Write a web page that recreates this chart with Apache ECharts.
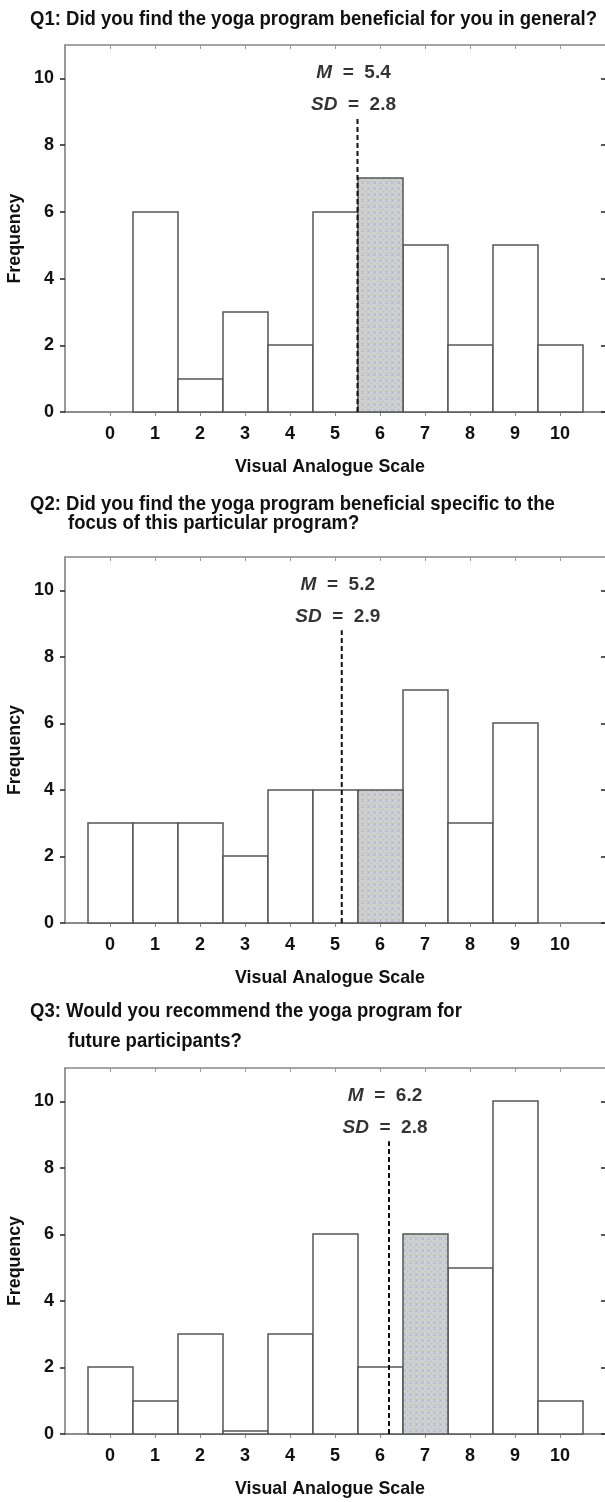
<!DOCTYPE html>
<html>
<head>
<meta charset="utf-8">
<script src="https://cdn.jsdelivr.net/npm/echarts@6/dist/echarts.min.js"></script>
<style>
html,body{margin:0;padding:0;background:#fff;}
#c{width:605px;height:1502px;}
</style>
</head>
<body>
<div id="c"></div>
<script>
// ---- data ----
const categories = [0, 1, 2, 3, 4, 5, 6, 7, 8, 9, 10];
const xTickLabels = ['0', '1', '2', '3', '4', '5', '6', '7', '8', '9', '10'];
const yTickValues = [0, 2, 4, 6, 8, 10];
const yTickLabels = ['0', '2', '4', '6', '8', '10'];
const q1Values = [0, 6, 1, 3, 2, 6, 7, 5, 2, 5, 2];
const q2Values = [3, 3, 3, 2, 4, 4, 4, 7, 3, 6, 0];
const q3Values = [2, 1, 3, 0.1, 3, 6, 2, 6, 5, 10, 1];
const highlightCat = [6, 6, 7];
const meanLineX = [5.5, 5.15, 6.2];
const meanLineTop = [8.8, 8.8, 8.8];
const meanLabels = ['5.4', '5.2', '6.2'];
const sdLabels = ['2.8', '2.9', '2.8'];
const titleLines = [
  ['Q1: Did you find the yoga program beneficial for you in general?'],
  ['Q2: Did you find the yoga program beneficial specific to the', 'focus of this particular program?'],
  ['Q3: Would you recommend the yoga program for', 'future participants?']
];
const xAxisName = 'Visual Analogue Scale';
const yAxisName = 'Frequency';
const allValues = [q1Values, q2Values, q3Values];

// ---- layout ----
const FONT = "'Liberation Sans','Arial',sans-serif";
const gridLeft = 65, gridWidth = 542;
const gridTops = [45, 557, 1068];
const gridHeights = [367, 366, 366];
const titleY = [[19], [504, 523], [1011, 1041]];
const TITLE_SIZE = 21, NAME_SIZE = 19;

// condensing factors (fit reference text widths)
const mc = document.createElement('canvas').getContext('2d');
function fitScale(text, size, target) {
  mc.font = 'bold ' + size + "px 'Liberation Sans', Arial, sans-serif";
  return target / mc.measureText(text).width;
}
const titleScale = fitScale(titleLines[0][0], TITLE_SIZE, 567);
const xNameScale = fitScale(xAxisName, NAME_SIZE, 190);
const yNameScale = fitScale(yAxisName, NAME_SIZE, 90);

// hatch pattern for highlighted bar
const pc = document.createElement('canvas');
pc.width = 6; pc.height = 6;
const pctx = pc.getContext('2d');
pctx.fillStyle = '#d0d0d0'; pctx.fillRect(0, 0, 6, 6);
pctx.strokeStyle = '#a8abd2'; pctx.lineWidth = 0.8;
pctx.beginPath();
pctx.moveTo(1, 1); pctx.lineTo(4, 4); pctx.moveTo(4, 1); pctx.lineTo(1, 4);
pctx.stroke();
pctx.fillStyle = '#b5b5b5'; pctx.fillRect(5, 5, 1, 1);
const hatch = { image: pc, repeat: 'repeat' };

const grids = [], xAxes = [], yAxes = [], series = [], graphics = [];
for (let i = 0; i < 3; i++) {
  grids.push({ left: gridLeft, top: gridTops[i], width: gridWidth, height: gridHeights[i], containLabel: false });
  xAxes.push({
    gridIndex: i, type: 'value', min: -1, max: 11, interval: 1, position: 'bottom',
    axisLine: { show: true, onZero: false, lineStyle: { color: '#666', width: 1.5 } },
    axisTick: { show: true, inside: false, length: 4, customValues: categories, lineStyle: { color: '#888' } },
    axisLabel: { show: true, customValues: categories, formatter: v => xTickLabels[categories.indexOf(v)] || '',
      fontFamily: FONT, fontSize: 18, fontWeight: 'bold', color: '#111', margin: 13 },
    splitLine: { show: false }
  });
  xAxes.push({
    gridIndex: i, type: 'value', min: -1, max: 11, interval: 1, position: 'top',
    axisLine: { show: true, onZero: false, lineStyle: { color: '#888', width: 1.5 } },
    axisTick: { show: true, inside: true, length: 4, customValues: categories, lineStyle: { color: '#999' } },
    axisLabel: { show: false }, splitLine: { show: false }
  });
  yAxes.push({
    gridIndex: i, type: 'value', min: 0, max: 11, interval: 1, position: 'left',
    axisLine: { show: true, onZero: false, lineStyle: { color: '#777', width: 1.5 } },
    axisTick: { show: true, inside: false, length: 5, customValues: yTickValues, lineStyle: { color: '#222', width: 1.5 } },
    axisLabel: { show: true, customValues: yTickValues, formatter: v => yTickLabels[yTickValues.indexOf(v)] || '',
      fontFamily: FONT, fontSize: 18, fontWeight: 'bold', color: '#111', margin: 11 },
    splitLine: { show: false }
  });
  yAxes.push({
    gridIndex: i, type: 'value', min: 0, max: 11, interval: 1, position: 'right',
    axisLine: { show: true, onZero: false, lineStyle: { color: '#777', width: 1 } },
    axisTick: { show: true, inside: true, length: 4, customValues: yTickValues, lineStyle: { color: '#222', width: 1.5 } },
    axisLabel: { show: false }, splitLine: { show: false }
  });
  const hi = highlightCat[i];
  series.push({
    type: 'custom', xAxisIndex: i * 2, yAxisIndex: i * 2, silent: true,
    data: categories.map((c, k) => [c, allValues[i][k]]),
    renderItem: function (params, api) {
      const x = api.value(0), y = api.value(1);
      if (!(y > 0)) return null;
      const p0 = api.coord([x - 0.5, y]);
      const p1 = api.coord([x + 0.5, 0]);
      return {
        type: 'rect',
        z2: x === hi ? 2 : 1,
        shape: { x: Math.round(p0[0]), y: Math.round(p0[1]), width: Math.round(p1[0] - p0[0]), height: Math.round(p1[1]) - Math.round(p0[1]) },
        style: { fill: x === hi ? hatch : '#ffffff', stroke: '#555', lineWidth: 1.5 }
      };
    }
  });
  series.push({
    type: 'line', xAxisIndex: i * 2, yAxisIndex: i * 2, silent: true, symbol: 'none',
    data: [[meanLineX[i], 0], [meanLineX[i], meanLineTop[i]]],
    lineStyle: { color: '#111', width: 2, type: [5, 3] }, z: 5
  });
  series.push({
    type: 'scatter', xAxisIndex: i * 2, yAxisIndex: i * 2, silent: true, symbolSize: 0,
    data: [[meanLineX[i], 10.16], [meanLineX[i], 9.2]],
    label: {
      show: true, position: 'inside', offset: [-4, 0],
      formatter: p => p.dataIndex === 0 ? '{i|M}{n|  =  ' + meanLabels[i] + '}' : '{i|SD}{n|  =  ' + sdLabels[i] + '}',
      rich: {
        i: { fontFamily: FONT, fontSize: 19, fontStyle: 'italic', fontWeight: 'bold', color: '#000' },
        n: { fontFamily: FONT, fontSize: 19, fontWeight: 'bold', color: '#000' }
      }
    }
  });
  // titles
  titleLines[i].forEach((t, k) => {
    graphics.push({
      type: 'text', x: k === 0 ? 30 : 68, y: titleY[i][k], scaleX: titleScale,
      style: { text: t, fontFamily: FONT, fontSize: TITLE_SIZE, fontWeight: 'bold', fill: '#111', verticalAlign: 'middle', align: 'left' }
    });
  });
  // axis names
  const base = gridTops[i] + gridHeights[i];
  graphics.push({
    type: 'text', x: 330, y: base + 55, scaleX: xNameScale,
    style: { text: xAxisName, fontFamily: FONT, fontSize: NAME_SIZE, fontWeight: 'bold', fill: '#111', align: 'center', verticalAlign: 'middle' }
  });
  graphics.push({
    type: 'text', x: 15, y: gridTops[i] + gridHeights[i] / 2 + 10, rotation: Math.PI / 2, scaleX: yNameScale,
    style: { text: yAxisName, fontFamily: FONT, fontSize: NAME_SIZE, fontWeight: 'bold', fill: '#111', align: 'center', verticalAlign: 'middle' }
  });
}

const chart = echarts.init(document.getElementById('c'), null, { renderer: 'canvas' });
chart.setOption({
  animation: false,
  backgroundColor: '#fff',
  grid: grids, xAxis: xAxes, yAxis: yAxes, series: series, graphic: graphics
});
</script>
</body>
</html>
